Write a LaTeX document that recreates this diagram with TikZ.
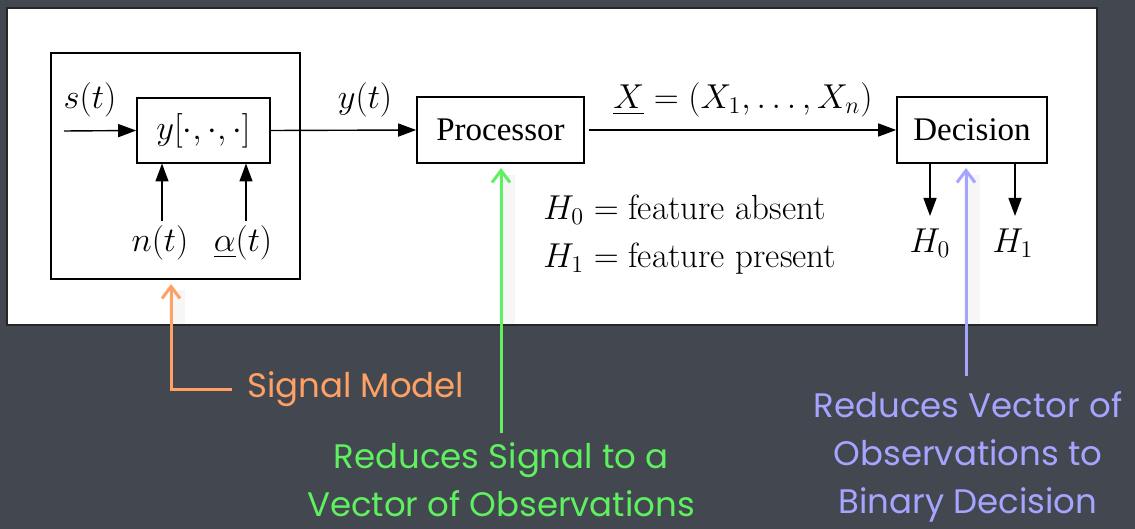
\documentclass[tikz,border=0pt]{standalone}
\usepackage{amsmath}
\usepackage{fontspec}
\newfontfamily\boxfont{Liberation Serif}
\newfontfamily\notefont{Poppins}
\usetikzlibrary{arrows.meta}
\definecolor{board}{RGB}{67,71,79}
\definecolor{noteorange}{RGB}{255,160,100}
\definecolor{notegreen}{RGB}{95,240,95}
\definecolor{noteblue}{RGB}{165,165,255}
\tikzset{
  blk/.style={draw=black, line width=0.8pt, fill=white, inner sep=0pt},
  lbl/.style={inner sep=0pt, font=\fontsize{17.5}{21}\selectfont},
  arr/.style={line width=0.7pt, -{Triangle[length=9pt,width=6.5pt]}},
  notearr/.style={line width=1.5pt, -{Straight Barb[length=6pt,width=9pt]}},
  shade/.style={line width=8pt, black, opacity=0.035},
  note/.style={inner sep=0pt, align=center, font=\notefont\fontsize{17}{24}\selectfont}
}
\begin{document}
\begin{tikzpicture}[x=0.5pt,y=-0.5pt]
\fill[board] (0,0) rectangle (1135,529);
\useasboundingbox (0,0) rectangle (1135,529);
% panel
\node[draw=black!85, line width=1pt, fill=white, minimum width=545pt, minimum height=158.5pt, inner sep=0pt] (panel) at (552,166.5) {};
% signal model
\node[blk, minimum width=124.5pt, minimum height=113pt] (outer) at (175.5,166) {};
\node[blk, minimum width=66.5pt, minimum height=32.5pt, lbl] (inner) at (203.5,130.5) {$y[\cdot,\cdot,\cdot]$};
\node[blk, minimum width=83.5pt, minimum height=33pt, lbl, font=\boxfont\fontsize{16.5}{20}\selectfont] (proc) at (500.5,130) {Processor};
\node[blk, minimum width=75pt, minimum height=33pt, lbl, font=\boxfont\fontsize{16.5}{20}\selectfont] (dec) at (972,130) {Decision};
% labels
\node[lbl] (s) at (90,100) {$s(t)$};
\node[lbl] (y) at (365,100) {$y(t)$};
\node[lbl] (X) at (743,100) {$\underline{X}=(X_1,\ldots,X_n)$};
\node[lbl] (n) at (160,243) {$n(t)$};
\node[lbl] (al) at (243,243) {$\underline{\alpha}(t)$};
\node[lbl] (h0) at (930,243) {$H_0$};
\node[lbl] (h1) at (1013,243) {$H_1$};
\node[lbl, anchor=west] (hyp) at (543,235) {$\begin{aligned}H_0&=\text{feature absent}\\ H_1&=\text{feature present}\end{aligned}$};
% connectors
\coordinate (sin) at (64,131);
\draw[arr] (sin) -- (inner.west);
\draw[arr] (inner.east) -- (proc.west);
\draw[arr, shorten <=2pt] (proc.east) -- (dec.west);
\draw[arr] (162,221) -- (162,163.5);
\draw[arr] (246,221) -- (246,163.5);
\draw[arr] (930,163.5) -- (930,216);
\draw[arr] (1015,163.5) -- (1015,216);
% notes
\node[note, text=noteorange, anchor=west] (sm) at (247,389) {Signal Model};
\node[note, text=notegreen] (gr) at (501,480) {Reduces Signal to a\\Vector of Observations};
\node[note, text=noteblue] (bl) at (968,457) {Reduces Vector of\\Observations to\\Binary Decision};
\coordinate (otip) at (171,284);
\coordinate (gtip) at (501,168);
\coordinate (btip) at (966,168);
\draw[shade] (177,290) -- (177,325);
\draw[shade] (507,175) -- (507,325);
\draw[shade] (972,175) -- (972,325);
\draw[notearr, noteorange] (232,389) -- (171,389) -- (otip);
\draw[notearr, notegreen] (501,433) -- (gtip);
\draw[notearr, noteblue] (966,376) -- (btip);
\end{tikzpicture}
\end{document}
